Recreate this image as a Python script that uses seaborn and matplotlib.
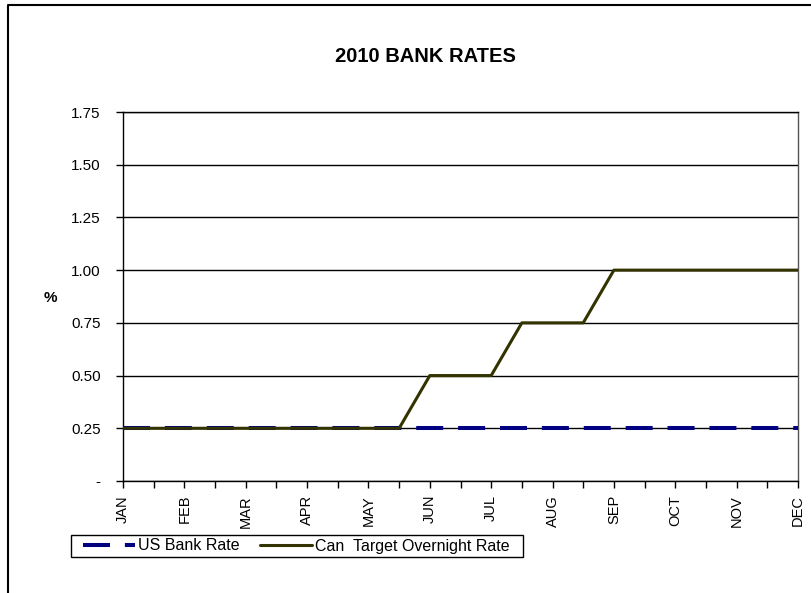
import matplotlib
matplotlib.use("Agg")
import matplotlib.pyplot as plt
import seaborn as sns
import pandas as pd
from matplotlib.lines import Line2D
from matplotlib.patches import Rectangle

# ---- data ----
months = ["JAN", "FEB", "MAR", "APR", "MAY", "JUN",
          "JUL", "AUG", "SEP", "OCT", "NOV", "DEC"]
periods = list(range(23))  # semi-monthly points, a month label on every second one
us_bank_rate = [0.25, 0.25, 0.25, 0.25, 0.25, 0.25, 0.25, 0.25, 0.25, 0.25, 0.25, 0.25,
                0.25, 0.25, 0.25, 0.25, 0.25, 0.25, 0.25, 0.25, 0.25, 0.25, 0.25]
can_overnight_rate = [0.25, 0.25, 0.25, 0.25, 0.25, 0.25, 0.25, 0.25, 0.25, 0.25,
                      0.50, 0.50, 0.50, 0.75, 0.75, 0.75,
                      1.00, 1.00, 1.00, 1.00, 1.00, 1.00, 1.00]
yticks = [0, 0.25, 0.5, 0.75, 1.0, 1.25, 1.5, 1.75]
ytick_labels = ["-", "0.25", "0.50", "0.75", "1.00", "1.25", "1.50", "1.75"]
series_names = ["US Bank Rate", "Can  Target Overnight Rate"]

sns.set_theme(style="white")
plt.rcParams["font.family"] = ["Liberation Sans", "DejaVu Sans"]
plt.rcParams["text.color"] = "black"

W, H = 811, 593
fig = plt.figure(figsize=(W / 100, H / 100), dpi=100)
fig.patch.set_facecolor("white")

L, R, T, B = 123, 798, 112, 481
ax = fig.add_axes([L / W, 1 - B / H, (R - L) / W, (B - T) / H])

us_df = pd.DataFrame({"period": periods, "rate": us_bank_rate})
can_df = pd.DataFrame({"period": periods, "rate": can_overnight_rate})

us_color = "#000080"
can_color = "#333300"
us_dashes = (6.7, 3.7)

sns.lineplot(data=us_df, x="period", y="rate", ax=ax, color=us_color,
             linewidth=2.9, legend=False, zorder=3)
ax.lines[-1].set_dashes(us_dashes)
ax.lines[-1].set_dash_capstyle("butt")
sns.lineplot(data=can_df, x="period", y="rate", ax=ax, color=can_color,
             linewidth=2.2, legend=False, zorder=4)

ax.set_xlim(0, 22)
ax.set_ylim(0, 1.75)
ax.set_yticks(yticks)
ax.set_yticklabels(ytick_labels, fontsize=11)
ax.set_xticks(periods[::2])
ax.set_xticklabels(months, rotation=90, fontsize=10.5)
ax.set_xticks(periods[1::2], minor=True)
ax.tick_params(axis="both", which="both", direction="out", length=5, width=1,
               color="black", bottom=True, left=True, labelcolor="black")
ax.tick_params(axis="y", pad=11)
ax.tick_params(axis="x", pad=5)
ax.set_xlabel("")
ax.set_ylabel("")
ax.grid(axis="y", color="black", linewidth=1)
ax.set_axisbelow(True)
for s in ax.spines.values():
    s.set_color("black")
    s.set_linewidth(1)
    s.set_visible(True)
ax.spines["right"].set_color("#555555")

# title and y label
fig.text(425 / W, 1 - 57 / H, "2010 BANK RATES", ha="center", va="center",
         fontsize=14.5, fontweight="bold", color="black")
fig.text(50 / W, 1 - 298 / H, "%", ha="center", va="center",
         fontsize=11, fontweight="bold", color="black")

# outer chart frame
fig.add_artist(Line2D([8 / W, 8 / W, 1.0], [0.0, 1 - 5 / H, 1 - 5 / H],
                      transform=fig.transFigure, color="black", linewidth=1.5))

# legend (frame drawn separately)
fig.add_artist(Rectangle((71 / W, 1 - 557 / H), (523 - 71) / W, 22 / H,
                         transform=fig.transFigure, facecolor="white",
                         edgecolor="black", linewidth=1, zorder=1))
handles = [Line2D([0], [0], color=us_color, linewidth=2.9, dashes=us_dashes),
           Line2D([0], [0], color=can_color, linewidth=2.2)]
leg = fig.legend(handles, series_names, loc="center left",
                 bbox_to_anchor=(83 / W, 1 - 546 / H), ncol=2, frameon=False,
                 fontsize=11.5, handlelength=3.25, handletextpad=0.22,
                 columnspacing=1.25, borderpad=0, borderaxespad=0,
                 labelcolor="black")
leg.set_zorder(2)

fig.savefig("out.png", dpi=100, facecolor="white")
